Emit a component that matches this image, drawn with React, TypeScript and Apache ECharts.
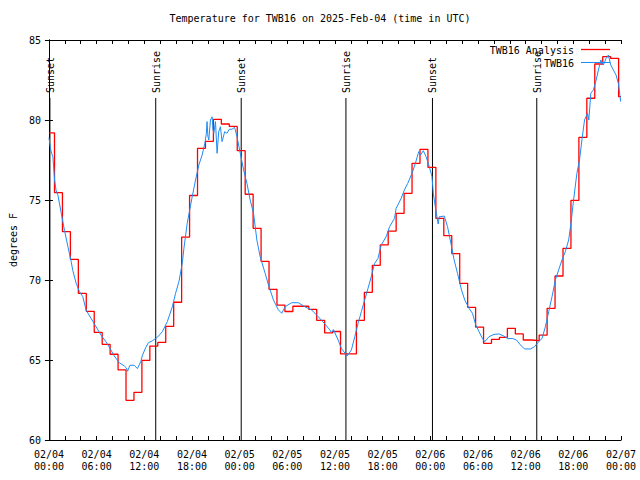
import React, { useEffect, useRef } from "react";
import * as echarts from "echarts";

const FONT = "DejaVu Sans Mono";
const TITLE = "Temperature for TWB16 on 2025-Feb-04 (time in UTC)";
const Y_NAME = "degrees F";
const RED_NAME = "TWB16 Analysis";
const BLUE_NAME = "TWB16";
const RED = "#ff0000";
const BLUE = "#1e8cf5";

// x axis: hours since 2025-02-04 00:00 UTC
const X_MIN = 0;
const X_MAX = 72;
const Y_MIN = 60;
const Y_MAX = 85;

// Hourly analysis values; each one holds from its start hour until the next
const redStartHours = [0, 0.7]; // first value from 0h, then hourly from 0.7h
const redValues = [
  79.2, 75.46, 73.02, 71.29, 69.17, 68.04, 66.73, 65.98, 65.36, 64.38,
  62.48, 62.98, 64.98, 65.87, 66.1, 67.1, 68.61, 72.68, 75.28, 78.23,
  78.66, 80.04, 79.75, 79.6, 78.08, 75.36, 73.23, 71.17, 69.42, 68.43,
  68.03, 68.36, 68.36, 68.17, 67.48, 66.69, 66.78, 65.38, 65.38, 67.48,
  69.23, 70.92, 72.19, 73.06, 74.17, 75.42, 77.29, 78.17, 77.04, 73.85,
  72.77, 71.65, 69.79, 68.29, 67.06, 66.04, 66.29, 66.42, 66.98, 66.63,
  66.25, 66.21, 66.56, 68.23, 70.25, 71.98, 74.98, 78.92, 81.36, 83.5,
  83.96, 83.85, 81.46,
];

// Observations [hour, degF]
const blueObs: [number, number][] = [
  [0.0, 78.9], [0.2, 78.2], [0.35, 77.9], [0.5, 77.7], [0.71, 76.25], [0.9, 75.6], [1.13, 75.3],
  [1.54, 74.2], [1.96, 73.1], [2.38, 72.1], [2.8, 71.14], [3.0, 70.6], [3.42, 69.8], [3.84, 69.27],
  [4.26, 68.96], [4.67, 68.13], [5.3, 67.6], [5.93, 67.08], [6.55, 66.56], [7.18, 66.14], [7.8, 65.63],
  [8.22, 65.25], [8.85, 64.83], [9.48, 64.63], [9.75, 64.5], [9.9, 64.3], [10.19, 64.67], [10.73, 64.67],
  [11.14, 64.46], [11.56, 64.9], [11.77, 65.3], [12.19, 65.79], [12.52, 66.08], [13.02, 66.2],
  [13.65, 66.42], [14.27, 66.77], [14.9, 67.4], [15.53, 68.33], [15.94, 69.17], [16.36, 69.9],
  [16.78, 71.04], [16.99, 71.98], [17.4, 73.54], [18.03, 75.2], [18.45, 76.25], [18.87, 77.19],
  [19.28, 77.81], [19.62, 78.54], [19.8, 79.1], [19.9, 79.9], [20.0, 79.0], [20.12, 78.75],
  [20.33, 80.0], [20.54, 80.2], [20.65, 79.4], [20.75, 79.17], [20.96, 79.9], [21.16, 77.92],
  [21.37, 79.27], [21.58, 79.58], [21.79, 78.65], [22.12, 79.27], [22.4, 79.17], [22.7, 79.42],
  [23.03, 79.42], [23.37, 79.54], [23.67, 78.96], [24.08, 77.92], [24.5, 76.88], [24.92, 76.04],
  [25.33, 75.0], [25.75, 74.17], [26.17, 72.5], [26.58, 71.46], [27.21, 70.42], [27.63, 69.69],
  [28.26, 68.75], [28.88, 68.13], [29.3, 67.92], [29.72, 68.33], [30.55, 68.58], [31.39, 68.58],
  [32.2, 68.33], [33.06, 68.13], [33.9, 67.7], [34.73, 67.25], [35.35, 66.88], [35.56, 66.71],
  [35.8, 66.9], [36.4, 66.25], [36.8, 65.73], [37.53, 65.25], [38.07, 65.63], [38.49, 66.46],
  [38.91, 67.29], [39.32, 68.02], [39.74, 68.75], [40.16, 69.48], [40.57, 70.21], [40.99, 71.04],
  [41.41, 71.35], [41.82, 72.19], [42.45, 72.71], [42.87, 73.33], [43.49, 73.85], [43.7, 74.48],
  [44.33, 75.1], [44.74, 75.63], [45.16, 76.04], [45.7, 76.67], [46.12, 77.29], [46.54, 78.02],
  [46.75, 77.8], [47.12, 78.08], [47.46, 77.71], [47.88, 77.08], [48.21, 76.46], [48.38, 75.42],
  [48.5, 75.0], [48.63, 74.58], [48.83, 73.96], [48.99, 73.5], [49.13, 73.96], [49.34, 73.96],
  [49.75, 74.0], [50.17, 73.33], [50.59, 72.29], [51.0, 71.25], [51.42, 70.42], [51.92, 69.38],
  [52.34, 68.75], [52.88, 68.23], [53.3, 67.92], [53.72, 67.19], [54.13, 66.77], [54.55, 66.35],
  [54.85, 66.14], [55.39, 66.46], [56.01, 66.6], [56.64, 66.63], [57.26, 66.5], [57.76, 66.33],
  [58.31, 66.35], [58.85, 66.25], [59.35, 65.94], [59.85, 65.69], [60.61, 65.69], [61.11, 65.83],
  [61.52, 66.08], [62.07, 66.35], [62.48, 67.08], [62.9, 68.02], [63.32, 68.96], [63.74, 70.0],
  [64.15, 70.63], [64.57, 71.25], [64.99, 71.77], [65.41, 72.5], [65.7, 73.54], [66.03, 75.0],
  [66.45, 76.67], [66.78, 77.5], [67.08, 78.75], [67.41, 80.0], [67.78, 80.42], [67.95, 80.0],
  [68.2, 81.67], [68.53, 81.88], [68.87, 82.5], [69.16, 83.13], [69.46, 83.75], [69.79, 83.44],
  [70.12, 83.85], [70.41, 84.06], [70.71, 83.44], [71.04, 83.13], [71.38, 82.81], [71.67, 82.29],
  [71.96, 81.15],
];

// Sunrise / sunset events (hours since start)
const sunLabels = ["Sunset", "Sunrise", "Sunset", "Sunrise", "Sunset", "Sunrise"];
const sunHours = [0.12, 13.44, 24.2, 37.38, 48.27, 61.4];

function pad2(n: number) {
  return n < 10 ? "0" + n : String(n);
}

function xLabel(v: number) {
  if (Math.round(v) % 6 !== 0) return "";
  const day = 4 + Math.floor(v / 24);
  const hh = Math.round(v) % 24;
  return "02/" + pad2(day) + "\n" + pad2(hh) + ":00";
}

export default function App() {
  const ref = useRef<HTMLDivElement>(null);
  useEffect(() => {
    if (!ref.current) return;
    const chart = echarts.init(ref.current, null, { renderer: "svg" });

    const redData: [number, number][] = redValues.map((v, i) => [
      i === 0 ? redStartHours[0] : redStartHours[1] + (i - 1),
      v,
    ]);
    redData.push([X_MAX, redValues[redValues.length - 1]]);

    const axisLineStyle = { color: "#000", width: 1 };
    const xCommon = {
      type: "value" as const,
      min: X_MIN,
      max: X_MAX,
      interval: 2,
      splitLine: { show: false },
      axisLine: { show: true, lineStyle: axisLineStyle },
      axisTick: { show: true, inside: true, length: 4, lineStyle: { color: "#000" } },
    };
    const yCommon = {
      type: "value" as const,
      min: Y_MIN,
      max: Y_MAX,
      interval: 5,
      splitLine: { show: false },
      axisLine: { show: true, lineStyle: axisLineStyle },
      axisTick: { show: true, inside: true, length: 4, lineStyle: { color: "#000" } },
    };

    chart.setOption({
      animation: false,
      backgroundColor: "#fff",
      textStyle: { fontFamily: FONT },
      title: {
        text: TITLE,
        left: "center",
        top: 8,
        textStyle: { fontFamily: FONT, fontSize: 10, fontWeight: "normal", color: "#000" },
      },
      grid: { left: 46, right: 19, top: 40, bottom: 40 },
      xAxis: [
        {
          ...xCommon,
          position: "bottom",
          axisLabel: {
            formatter: xLabel,
            fontFamily: FONT,
            fontSize: 10,
            color: "#000",
            margin: 8,
            lineHeight: 12,
            showMinLabel: true,
            showMaxLabel: true,
            hideOverlap: false,
          },
        },
        { ...xCommon, position: "top", axisLabel: { show: false } },
      ],
      yAxis: [
        {
          ...yCommon,
          position: "left",
          name: Y_NAME,
          nameLocation: "middle",
          nameRotate: 90,
          nameGap: 29,
          nameTextStyle: { fontFamily: FONT, fontSize: 10, color: "#000" },
          axisLabel: { fontFamily: FONT, fontSize: 10, color: "#000", margin: 8 },
        },
        { ...yCommon, position: "right", axisLabel: { show: false } },
      ],
      graphic: [
        {
          type: "text",
          x: 574,
          y: 50,
          style: { text: RED_NAME, align: "right", verticalAlign: "middle", fontFamily: FONT, fontSize: 10, fill: "#000" },
          z: 100,
        },
        { type: "line", shape: { x1: 581, y1: 49.5, x2: 610, y2: 49.5 }, style: { stroke: RED, lineWidth: 1.3 }, z: 100 },
        {
          type: "text",
          x: 574,
          y: 63,
          style: { text: BLUE_NAME, align: "right", verticalAlign: "middle", fontFamily: FONT, fontSize: 10, fill: "#000" },
          z: 100,
        },
        { type: "line", shape: { x1: 581, y1: 62.5, x2: 610, y2: 62.5 }, style: { stroke: BLUE, lineWidth: 1 }, z: 100 },
      ],
      series: [
        {
          type: "custom",
          name: "sun",
          xAxisIndex: 0,
          yAxisIndex: 0,
          data: sunHours.map((h) => [h, Y_MIN]),
          silent: true,
          z: 1,
          renderItem: (params: any, api: any) => {
            const p = api.coord([api.value(0), api.value(1)]);
            const cs = params.coordSys;
            const textBase = cs.y + 53;
            return {
              type: "group",
              children: [
                {
                  type: "line",
                  shape: { x1: p[0], y1: textBase + 5, x2: p[0], y2: cs.y + cs.height },
                  style: { stroke: "#000", lineWidth: 1 },
                },
                {
                  type: "text",
                  x: p[0] + 0.5,
                  y: textBase,
                  rotation: Math.PI / 2,
                  style: {
                    text: sunLabels[params.dataIndex],
                    x: 0,
                    y: 0,
                    align: "left",
                    verticalAlign: "middle",
                    fontFamily: FONT,
                    fontSize: 10,
                    fill: "#000",
                  },
                },
              ],
            };
          },
        },
        {
          type: "line",
          name: RED_NAME,
          data: redData,
          step: "end",
          showSymbol: false,
          symbol: "none",
          lineStyle: { color: RED, width: 1.3 },
          itemStyle: { color: RED },
          z: 2,
        },
        {
          type: "line",
          name: BLUE_NAME,
          data: blueObs,
          showSymbol: false,
          symbol: "none",
          lineStyle: { color: BLUE, width: 1 },
          itemStyle: { color: BLUE },
          z: 3,
        },
      ],
    });
    return () => chart.dispose();
  }, []);
  return (
    <div
      ref={ref}
      style={{ position: "fixed", left: 0, top: 0, width: 640, height: 480, background: "#fff" }}
    />
  );
}
